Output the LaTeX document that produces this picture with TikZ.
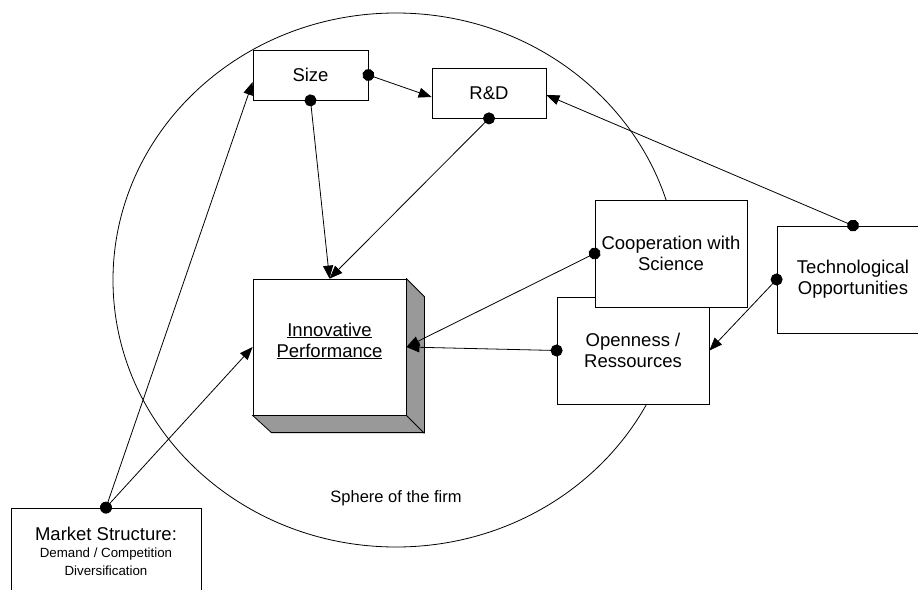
\documentclass[tikz,border=0pt]{standalone}
\usepackage{fontspec}
\setmainfont{Liberation Sans}
\usepackage{tikz}
\usetikzlibrary{arrows.meta,calc}
\usepackage{xcolor}
\definecolor{sidegray}{RGB}{153,153,153}

\tikzset{
  box/.style={draw, fill=white, line width=0.8pt, align=center, inner sep=0pt,
    font=\fontsize{18.5}{21}\selectfont},
  link/.style={line width=0.8pt, {Circle[length=12pt]}-{Triangle[length=13pt,width=10pt]},
    shorten <=-6pt},
}

\begin{document}
\begin{tikzpicture}[x=1pt,y=-1pt]
\useasboundingbox (0,0) rectangle (918,589);
\clip (0,0) rectangle (918,589);
% Draw the sphere
\draw[line width=0.8pt] (396,280) ellipse [x radius=283pt, y radius=267pt];
\node[font=\fontsize{16.5}{20}\selectfont] (sphere) at (396,498) {Sphere of the firm};
% Boxes
\node[box, minimum width=115pt, minimum height=50pt] (size) at (310.5,75) {Size};
\node[box, minimum width=114pt, minimum height=50pt] (rd) at (489,93) {R\&D};
\node[box, minimum width=152pt, minimum height=107pt] (open) at (633,350.5) {Openness /\\Ressources};
\node[box, minimum width=152pt, minimum height=107pt] (coop) at (671,253.5) {Cooperation with\\Science};
\node[box, minimum width=152pt, minimum height=107pt] (tech) at (853,279.5) {Technological\\Opportunities};
\node[box, minimum width=190pt, minimum height=100pt] (market) at (106,558) {};
\node[align=center, font=\fontsize{18.5}{20}\selectfont] (markettext) at (106,551)
  {Market Structure:\\[-3pt]{\fontsize{13.3}{16}\selectfont Demand / Competition}\\[-2pt]{\fontsize{13.3}{16}\selectfont Diversification}};
% Innovative performance (3d box)
\node[box, minimum width=153pt, minimum height=136pt] (innov) at (329.5,347) {};
\filldraw[line width=0.8pt, fill=sidegray] (innov.north east) -- ++(18,18) -- ++(0,136)
  -- ++(-153,0) -- (innov.south west) -- (innov.south east) -- cycle;
\draw[line width=0.8pt] (innov.south east) -- ++(18,18);
\node[align=center, font=\fontsize{18.5}{21}\selectfont] (innovtext) at ([yshift=6pt]innov.center)
  {\underline{Innovative}\\\underline{Performance}};
% Connectors
\draw[link] (market.north) -- ([yshift=-7pt]size.west);
\draw[link] (market.north) -- (innov.west);
\draw[link] (size.east) -- ([yshift=-4pt]rd.west);
\draw[link] (size.south) -- (innov.north);
\draw[link] (rd.south) -- (innov.north);
\draw[link] (tech.north) -- ([yshift=-2pt]rd.east);
\draw[link] (tech.west) -- (open.east);
\draw[link] (coop.west) -- (innov.east);
\draw[link] (open.west) -- (innov.east);
\end{tikzpicture}
\end{document}
